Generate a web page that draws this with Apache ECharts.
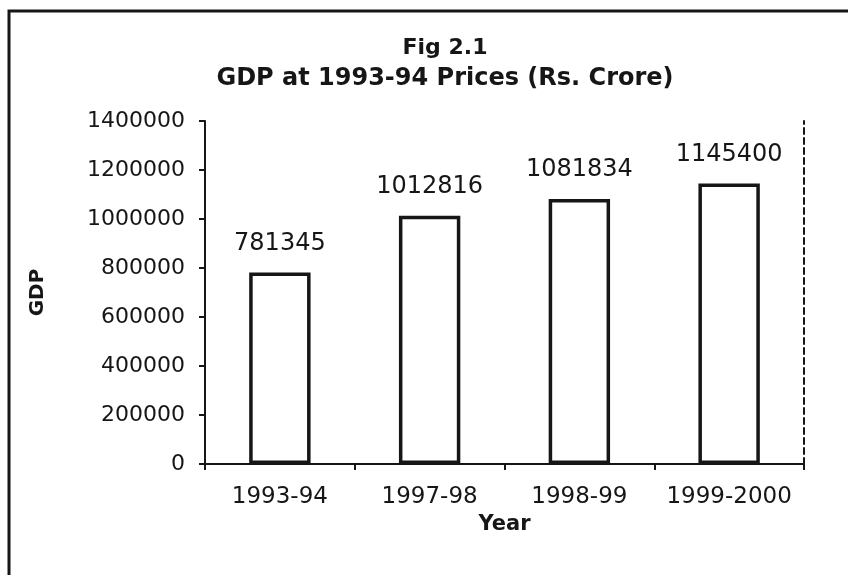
<!DOCTYPE html>
<html>
<head>
<meta charset="utf-8">
<script src="https://cdn.jsdelivr.net/npm/echarts@6/dist/echarts.min.js"></script>
<style>
  html, body { margin: 0; padding: 0; background: #fff; }
  #main { width: 848px; height: 575px; }
</style>
</head>
<body>
<div id="main"></div>
<script>
// data
var years = ['1993-94', '1997-98', '1998-99', '1999-2000'];
var gdp = [781345, 1012816, 1081834, 1145400];

var chart = echarts.init(document.getElementById('main'));
var ink = '#161616';
var font = '"DejaVu Sans", Verdana, sans-serif';

var option = {
  backgroundColor: '#fff',
  animation: false,
  title: {
    text: 'Fig 2.1',
    subtext: 'GDP at 1993-94 Prices (Rs. Crore)',
    left: 440,
    textAlign: 'center',
    top: 32,
    itemGap: 8,
    textStyle: { fontFamily: font, fontSize: 22, fontWeight: 'bold', color: ink },
    subtextStyle: { fontFamily: font, fontSize: 24, fontWeight: 'bold', color: ink }
  },
  graphic: [{
    type: 'rect',
    shape: { x: 9, y: 11, width: 860, height: 600 },
    style: { fill: 'none', stroke: ink, lineWidth: 3 }
  }],
  grid: { left: 205, right: 44, top: 121, bottom: 111 },
  xAxis: [{
    type: 'category',
    data: years,
    name: 'Year',
    nameLocation: 'middle',
    nameGap: 48,
    nameTextStyle: { fontFamily: font, fontSize: 21, fontWeight: 'bold', color: ink },
    axisLine: { lineStyle: { color: ink, width: 2 } },
    axisTick: { show: true, length: 6, lineStyle: { color: ink, width: 2 } },
    axisLabel: { fontFamily: font, fontSize: 23, color: ink, margin: 22, interval: 0 }
  }, {
    type: 'category',
    data: years,
    position: 'top',
    axisLine: { lineStyle: { color: ink, width: 2 } },
    axisTick: { show: false },
    axisLabel: { show: false }
  }],
  yAxis: [{
    type: 'value',
    min: 0,
    max: 1400000,
    interval: 200000,
    name: 'GDP',
    nameLocation: 'middle',
    nameGap: 157,
    nameRotate: 90,
    nameTextStyle: { fontFamily: font, fontSize: 20, fontWeight: 'bold', color: ink },
    axisLine: { show: true, lineStyle: { color: ink, width: 2 } },
    axisTick: { show: true, length: 6, lineStyle: { color: ink, width: 2 } },
    axisLabel: {
      fontFamily: font, fontSize: 22, color: ink, margin: 20,
      formatter: function (v) { return String(v); }
    },
    splitLine: { show: false }
  }, {
    type: 'value',
    min: 0,
    max: 1400000,
    interval: 200000,
    position: 'right',
    axisLine: { show: true, lineStyle: { color: ink, width: 2, type: [6, 4] } },
    axisTick: { show: false },
    axisLabel: { show: false },
    splitLine: { show: false }
  }],
  series: [{
    type: 'bar',
    data: gdp,
    barWidth: '41%',
    itemStyle: { color: '#fff', borderColor: ink, borderWidth: 3.5 },
    label: {
      show: true,
      position: 'top',
      distance: 17,
      fontFamily: font,
      fontSize: 24,
      color: ink
    }
  }]
};

chart.setOption(option);
</script>
</body>
</html>
